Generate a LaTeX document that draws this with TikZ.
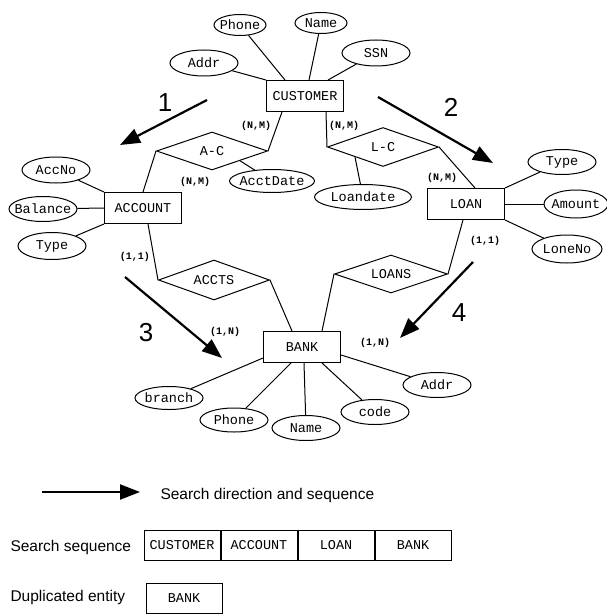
\documentclass[tikz,border=0pt]{standalone}
\usepackage{fontspec}
\setmainfont{Liberation Sans}
\newfontfamily\erfont{Liberation Mono}
\usetikzlibrary{positioning}
\usetikzlibrary{backgrounds}
\usetikzlibrary{shapes.geometric}
\usetikzlibrary{arrows.meta}

\begin{document}
\begin{tikzpicture}[x=1pt,y=-1pt,line width=1pt,
		every on background layer/.style={line width=1pt},
		entity/.style={draw,rectangle,fill=white,inner sep=2pt,minimum width=77pt,minimum height=31pt,font=\erfont\fontsize{13.5}{15}\selectfont},
		attr/.style={draw,ellipse,fill=white,inner xsep=-6pt,inner ysep=0pt,minimum width=68pt,minimum height=26pt,font=\erfont\fontsize{13.5}{15}\selectfont},
		rel/.style={draw,diamond,fill=white,aspect=2.9,inner sep=0pt,minimum width=111pt,minimum height=38pt,font=\erfont\fontsize{13.5}{15}\selectfont},
		card/.style={font=\erfont\bfseries\fontsize{10}{11}\selectfont,inner sep=0pt},
		stepno/.style={font=\fontsize{26}{28}\selectfont,inner sep=0pt},
		seqarrow/.style={line width=2.2pt,-{Triangle[length=20pt,width=15pt]}},
		seqcell/.style={draw,rectangle,fill=white,inner sep=1pt,minimum width=76pt,minimum height=30pt,font=\erfont\fontsize{13.5}{15}\selectfont},
		legendtext/.style={font=\fontsize{15.5}{17}\selectfont,inner sep=0pt,anchor=west}]

		\useasboundingbox (0,0) rectangle (606,615);

		% entities
		\node[entity] at (305,96) (cus) {CUSTOMER};
		\node[entity] at (143,208) (acc) {ACCOUNT};
		\node[entity] at (466,204) (loan) {LOAN};
		\node[entity] at (302,347) (bank) {BANK};

		% relationships
		\node[rel] at (212,151) (ac) {A-C};
		\node[rel,minimum height=39pt] at (383,147) (lc) {L-C};
		\node[rel,minimum height=40pt] at (214,280) (accts) {ACCTS};
		\node[rel,minimum width=113pt] at (391,274) (loans) {LOANS};

		% attributes
		\node[attr] at (204,63) (caddr) {Addr};
		\node[attr,inner xsep=-8pt,minimum width=52pt,minimum height=21pt] at (240,25) (cphone) {Phone};
		\node[attr,inner xsep=-8pt,minimum width=52pt,minimum height=21pt] at (321,23) (cname) {Name};
		\node[attr] at (376,53) (cssn) {SSN};

		\node[attr] at (56,170) (accno) {AccNo};
		\node[attr,minimum height=25pt] at (43,209) (abal) {Balance};
		\node[attr,minimum height=27pt] at (52,246) (atype) {Type};
		\node[attr,minimum width=85pt,minimum height=23pt] at (272,181) (acctdate) {AcctDate};
		\node[attr,minimum width=97pt,minimum height=25pt] at (363,197) (loandate) {Loandate};

		\node[attr,minimum height=25pt] at (562,162) (ltype) {Type};
		\node[attr,minimum width=64pt,minimum height=28pt] at (576,204) (lamt) {Amount};
		\node[attr,minimum width=70pt,minimum height=28pt] at (567,249) (lno) {LoneNo};

		\node[attr,minimum height=23pt] at (169,398) (bbranch) {branch};
		\node[attr,minimum height=24pt] at (234,420) (bphone) {Phone};
		\node[attr,minimum height=25pt] at (306,428) (bname) {Name};
		\node[attr,minimum height=25pt] at (375,412) (bcode) {code};
		\node[attr,minimum height=25pt] at (437,385) (baddr) {Addr};

		% cardinalities
		\node[card] at (256,126) (c1) {(N,M)};
		\node[card] at (344,126) (c2) {(N,M)};
		\node[card] at (195,182) (c3) {(N,M)};
		\node[card] at (442,178) (c4) {(N,M)};
		\node[card] at (135,257) (c5) {(1,1)};
		\node[card] at (485,241) (c6) {(1,1)};
		\node[card] at (225,332) (c7) {(1,N)};
		\node[card] at (375,343) (c8) {(1,N)};

		% search order
		\node[stepno] at (165,103) (n1) {1};
		\node[stepno] at (451,107) (n2) {2};
		\node[stepno] at (146,333) (n3) {3};
		\node[stepno] at (459,313) (n4) {4};
		\coordinate (s1) at (207,100);
		\coordinate (e1) at (120,145);
		\coordinate (s2) at (378,97);
		\coordinate (e2) at (493,163);
		\coordinate (s3) at (125,277);
		\coordinate (e3) at (222,358);
		\coordinate (s4) at (473,262);
		\coordinate (e4) at (400,338);

		% legend
		\coordinate (ls) at (42,492);
		\coordinate (le) at (140,492);
		\node[legendtext] at (160,495) (ltxt) {Search direction and sequence};
		\node[legendtext] at (10,547) (stxt) {Search sequence};
		\node[seqcell] at (182,545) (q1) {CUSTOMER};
		\node[seqcell,right = 0pt of q1] (q2) {ACCOUNT};
		\node[seqcell,right = 0pt of q2] (q3) {LOAN};
		\node[seqcell,right = 0pt of q3] (q4) {BANK};
		\node[legendtext] at (10,597) (dtxt) {Duplicated entity};
		\node[seqcell] at (184,598) (dup) {BANK};

		\begin{scope}[on background layer]
			\fill[white] (0,0) rectangle (606,615);
			\draw ([xshift=-23pt]cus.south) to (ac.east);
			\draw (ac.west) to (acc.north);
			\draw ([xshift=21pt]cus.south) to (lc.west);
			\draw (lc.east) to ([xshift=9pt]loan.north);
			\draw ([xshift=5pt]acc.south) to (accts.west);
			\draw (accts.east) to ([xshift=-10pt]bank.north);
			\draw (loans.west) to ([xshift=20pt]bank.north);
			\draw (loans.east) to ([xshift=-3pt]loan.south);

			\draw (caddr) to (cus.north west);
			\draw (cphone) to ([xshift=-20pt]cus.north);
			\draw (cname) to ([xshift=4pt]cus.north);
			\draw (cssn) to ([xshift=23pt]cus.north);

			\draw (accno) to (acc.north west);
			\draw (abal) to (acc.west);
			\draw (atype) to (acc.south west);
			\draw (acctdate) to (ac.south east);
			\draw (loandate) to (lc.south west);

			\draw (ltype) to (loan.north east);
			\draw (lamt) to (loan.east);
			\draw (lno) to (loan.south east);

			\draw (bbranch) to ([yshift=5pt]bank.south west);
			\draw (bphone) to ([xshift=-11pt]bank.south);
			\draw (bname) to ([xshift=2pt]bank.south);
			\draw (bcode) to ([xshift=20pt]bank.south);
			\draw (baddr) to ([yshift=-8pt]bank.east);
		\end{scope}

		\draw[seqarrow] (s1) to (e1);
		\draw[seqarrow] (s2) to (e2);
		\draw[seqarrow] (s3) to (e3);
		\draw[seqarrow] (s4) to (e4);
		\draw[seqarrow] (ls) to (le);
	\end{tikzpicture}
\end{document}
